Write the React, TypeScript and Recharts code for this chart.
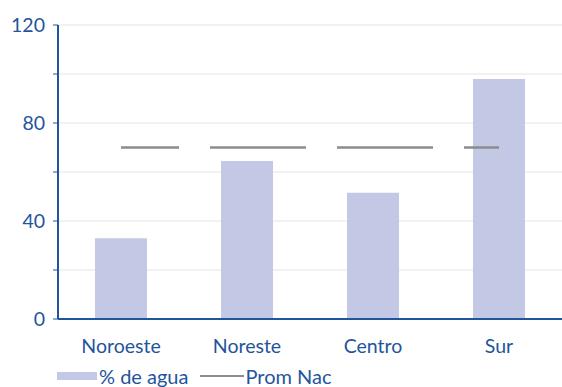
import { Line, XAxis, YAxis, CartesianGrid, Legend, ComposedChart, Bar } from "recharts";

const regions = ["Noroeste", "Noreste", "Centro", "Sur"];
const aguaValues = [33, 64.5, 51.5, 98];
const promNac = [70, 70, 70, 70];
const yTicks = [0, 20, 40, 60, 80, 100, 120];
const yLabels = [0, 40, 80, 120];

const data = regions.map((name, i) => ({
  name,
  agua: aguaValues[i],
  prom: promNac[i],
}));

const BLUE = "#1f559b";
const BAR = "#c3c8e4";
const GREY = "#8c8c8c";
const FONT = "Lato, 'Open Sans', sans-serif";

const renderLegend = () => (
  <div
    style={{
      display: "flex",
      alignItems: "center",
      fontFamily: FONT,
      fontSize: 20,
      color: BLUE,
      paddingLeft: 57,
      lineHeight: "22px",
    }}
  >
    <span style={{ display: "inline-block", width: 40, height: 8, background: BAR, marginRight: 2 }} />
    <span style={{ marginRight: 12 }}>% de agua</span>
    <span style={{ display: "inline-block", width: 44, height: 2, background: GREY, marginRight: 1 }} />
    <span>Prom Nac</span>
  </div>
);

export default function App() {
  return (
    <div style={{ position: "absolute", left: 0, top: 0, background: "#fff" }}>
      <ComposedChart
        width={562}
        height={387}
        data={data}
        margin={{ top: 25, right: 0, left: 0, bottom: 0 }}
      >
        <CartesianGrid vertical={false} stroke="#e4e4e4" strokeWidth={1} />
        <XAxis
          dataKey="name"
          axisLine={{ stroke: BLUE, strokeWidth: 2 }}
          tickLine={false}
          height={46}
          tick={{ fill: BLUE, fontSize: 19.5, fontFamily: FONT }}
          tickMargin={14}
        />
        <YAxis
          domain={[0, 120]}
          ticks={yTicks}
          interval={0}
          width={58}
          axisLine={{ stroke: BLUE, strokeWidth: 2 }}
          tickLine={{ stroke: BLUE }}
          tickSize={5}
          tickMargin={8}
          tick={{ fill: BLUE, fontSize: 19.5, fontFamily: FONT }}
          tickFormatter={(v: number) => (yLabels.includes(v) ? String(v) : "")}
        />
        <Bar dataKey="agua" name="% de agua" fill={BAR} barSize={52} isAnimationActive={false} />
        <Line
          dataKey="prom"
          name="Prom Nac"
          type="linear"
          stroke={GREY}
          strokeWidth={2.5}
          strokeDasharray="96 31"
          strokeDashoffset={38}
          dot={false}
          activeDot={false}
          isAnimationActive={false}
        />
        <Legend verticalAlign="bottom" height={22} content={renderLegend} />
      </ComposedChart>
    </div>
  );
}
